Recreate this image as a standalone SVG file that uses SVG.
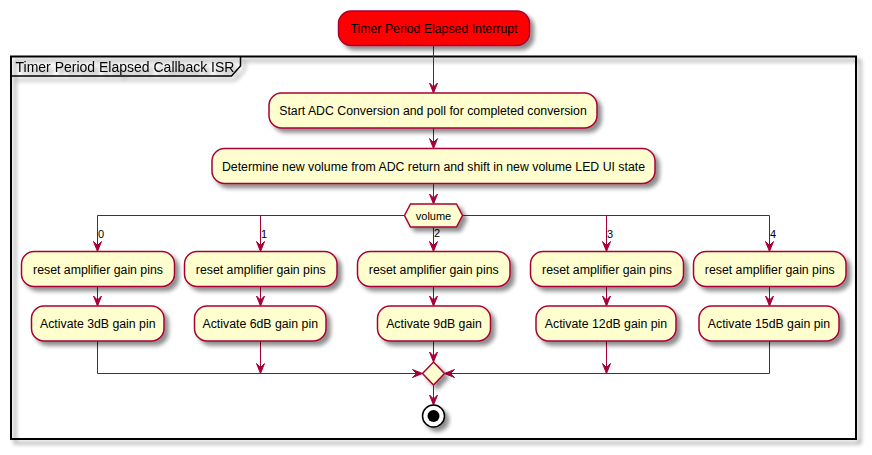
<svg xmlns="http://www.w3.org/2000/svg" xmlns:xlink="http://www.w3.org/1999/xlink" width="872" height="455" viewBox="0 0 872 455">
<defs>
<filter id="sh" x="-20%" y="-20%" width="150%" height="170%">
<feGaussianBlur in="SourceAlpha" stdDeviation="2"/>
<feOffset dx="4" dy="4" result="o"/>
<feComponentTransfer><feFuncA type="linear" slope="0.45"/></feComponentTransfer>
<feMerge><feMergeNode/><feMergeNode in="SourceGraphic"/></feMerge>
</filter>
<filter id="shp" x="-5%" y="-5%" width="110%" height="112%">
<feGaussianBlur in="SourceAlpha" stdDeviation="2"/>
<feOffset dx="4" dy="4" result="o"/>
<feComponentTransfer><feFuncA type="linear" slope="0.45"/></feComponentTransfer>
<feMerge><feMergeNode/><feMergeNode in="SourceGraphic"/></feMerge>
</filter>
<path id="ad" d="M0,0 L-4,-10 L0,-6 L4,-10 Z" fill="#A80036" stroke="#A80036" stroke-width="1"/>
</defs>
<style>
.act{fill:#FEFECE;stroke:#A80036;stroke-width:1.5;filter:url(#sh)}
.t{font-family:"Liberation Sans",Arial,sans-serif;font-size:12.3px;fill:#000;text-anchor:middle}
.s{font-family:"Liberation Sans",Arial,sans-serif;font-size:11px;fill:#000}
.ln{fill:none;stroke:#A80036;stroke-width:1}
</style>

<g id="partition" filter="url(#shp)">
<rect x="11" y="56.5" width="845" height="382.5" fill="none" stroke="#000" stroke-width="2"/>
<path d="M11,76 L231.5,76 L240.5,66 L240.5,56.5" fill="none" stroke="#000" stroke-width="1.5"/>
<text x="15.5" y="72" style="font-family:'Liberation Sans',Arial,sans-serif;font-size:14px;fill:#000">Timer Period Elapsed Callback ISR</text>
</g>

<g id="connectors">
<line class="ln" x1="433.5" y1="45" x2="433.5" y2="93"/>
<use xlink:href="#ad" href="#ad" transform="translate(433.5,93)"/>
<line class="ln" x1="433.5" y1="128" x2="433.5" y2="148.5"/>
<use xlink:href="#ad" href="#ad" transform="translate(433.5,148.5)"/>
<line class="ln" x1="433.5" y1="183.5" x2="433.5" y2="204"/>
<use xlink:href="#ad" href="#ad" transform="translate(433.5,204)"/>
<polyline class="ln" points="404.5,215.5 97.5,215.5 97.5,251.5"/>
<line class="ln" x1="260.5" y1="215.5" x2="260.5" y2="251.5"/>
<line class="ln" x1="433.5" y1="227" x2="433.5" y2="251.5"/>
<polyline class="ln" points="462.5,215.5 769.5,215.5 769.5,251.5"/>
<line class="ln" x1="606.5" y1="215.5" x2="606.5" y2="251.5"/>
<use xlink:href="#ad" href="#ad" transform="translate(97.5,251.5)"/>
<use xlink:href="#ad" href="#ad" transform="translate(260.5,251.5)"/>
<use xlink:href="#ad" href="#ad" transform="translate(433.5,251.5)"/>
<use xlink:href="#ad" href="#ad" transform="translate(606.5,251.5)"/>
<use xlink:href="#ad" href="#ad" transform="translate(769.5,251.5)"/>
<text class="s" x="98" y="237.5">0</text>
<text class="s" x="261" y="237.5">1</text>
<text class="s" x="434" y="236.5">2</text>
<text class="s" x="607" y="237.5">3</text>
<text class="s" x="770" y="237.5">4</text>
<line class="ln" x1="97.5" y1="286.5" x2="97.5" y2="306"/>
<line class="ln" x1="260.5" y1="286.5" x2="260.5" y2="306"/>
<line class="ln" x1="433.5" y1="286.5" x2="433.5" y2="306"/>
<line class="ln" x1="606.5" y1="286.5" x2="606.5" y2="306"/>
<line class="ln" x1="769.5" y1="286.5" x2="769.5" y2="306"/>
<use xlink:href="#ad" href="#ad" transform="translate(97.5,306)"/>
<use xlink:href="#ad" href="#ad" transform="translate(260.5,306)"/>
<use xlink:href="#ad" href="#ad" transform="translate(433.5,306)"/>
<use xlink:href="#ad" href="#ad" transform="translate(606.5,306)"/>
<use xlink:href="#ad" href="#ad" transform="translate(769.5,306)"/>
<polyline class="ln" points="97.5,341 97.5,373.5 422.5,373.5"/>
<polyline class="ln" points="769.5,341 769.5,373.5 444.5,373.5"/>
<line class="ln" x1="260.5" y1="341" x2="260.5" y2="373.5"/>
<line class="ln" x1="606.5" y1="341" x2="606.5" y2="373.5"/>
<line class="ln" x1="433.5" y1="341" x2="433.5" y2="362"/>
<use xlink:href="#ad" href="#ad" transform="translate(260.5,373.5)"/>
<use xlink:href="#ad" href="#ad" transform="translate(606.5,373.5)"/>
<use xlink:href="#ad" href="#ad" transform="translate(433.5,362)"/>
<use xlink:href="#ad" href="#ad" transform="translate(422.5,373.5) rotate(-90)"/>
<use xlink:href="#ad" href="#ad" transform="translate(444.5,373.5) rotate(90)"/>
<line class="ln" x1="433.5" y1="385" x2="433.5" y2="405"/>
<use xlink:href="#ad" href="#ad" transform="translate(433.5,405)"/>
</g>

<g id="start">
<rect x="338.5" y="11" width="191" height="34.5" rx="12.5" ry="12.5" fill="#FF0000" stroke="#A80036" stroke-width="1.5" filter="url(#sh)"/>
<text class="t" x="434" y="33">Timer Period Elapsed Interrupt</text>
</g>

<g id="adc">
<rect class="act" x="269" y="93" width="328" height="35" rx="12.5" ry="12.5"/>
<text class="t" x="433" y="115">Start ADC Conversion and poll for completed conversion</text>
</g>

<g id="determine">
<rect class="act" x="212" y="148.5" width="443" height="35" rx="12.5" ry="12.5"/>
<text class="t" x="433.5" y="170.5">Determine new volume from ADC return and shift in new volume LED UI state</text>
</g>

<g id="switch">
<polygon class="act" points="404.5,215.5 410.5,204 456.5,204 462.5,215.5 456.5,227 410.5,227"/>
<text class="s" x="433.5" y="219.5" text-anchor="middle">volume</text>
</g>

<g id="reset0">
<rect class="act" x="21.5" y="251.5" width="153" height="35" rx="12.5" ry="12.5"/>
<text class="t" x="98" y="273.5">reset amplifier gain pins</text>
</g>
<g id="reset1">
<rect class="act" x="184.5" y="251.5" width="152.5" height="35" rx="12.5" ry="12.5"/>
<text class="t" x="260.75" y="273.5">reset amplifier gain pins</text>
</g>
<g id="reset2">
<rect class="act" x="357.5" y="251.5" width="152.5" height="35" rx="12.5" ry="12.5"/>
<text class="t" x="433.75" y="273.5">reset amplifier gain pins</text>
</g>
<g id="reset3">
<rect class="act" x="530.5" y="251.5" width="153" height="35" rx="12.5" ry="12.5"/>
<text class="t" x="607" y="273.5">reset amplifier gain pins</text>
</g>
<g id="reset4">
<rect class="act" x="693.5" y="251.5" width="152.5" height="35" rx="12.5" ry="12.5"/>
<text class="t" x="769.75" y="273.5">reset amplifier gain pins</text>
</g>

<g id="gain3">
<rect class="act" x="31.5" y="306" width="132.5" height="35" rx="12.5" ry="12.5"/>
<text class="t" x="97.75" y="328">Activate 3dB gain pin</text>
</g>
<g id="gain6">
<rect class="act" x="194.5" y="306" width="131.5" height="35" rx="12.5" ry="12.5"/>
<text class="t" x="260.25" y="328">Activate 6dB gain pin</text>
</g>
<g id="gain9">
<rect class="act" x="377.5" y="306" width="113" height="35" rx="12.5" ry="12.5"/>
<text class="t" x="434" y="328">Activate 9dB gain</text>
</g>
<g id="gain12">
<rect class="act" x="536" y="306" width="140" height="35" rx="12.5" ry="12.5"/>
<text class="t" x="606" y="328">Activate 12dB gain pin</text>
</g>
<g id="gain15">
<rect class="act" x="699" y="306" width="140" height="35" rx="12.5" ry="12.5"/>
<text class="t" x="769" y="328">Activate 15dB gain pin</text>
</g>

<g id="merge">
<polygon class="act" points="433.5,362 444.5,373.5 433.5,385 422.5,373.5"/>
</g>

<g id="end" filter="url(#sh)">
<circle cx="433.5" cy="416" r="11" fill="#FFFFFF" stroke="#000" stroke-width="1.5"/>
<circle cx="433.5" cy="416" r="6" fill="#000"/>
</g>
</svg>
